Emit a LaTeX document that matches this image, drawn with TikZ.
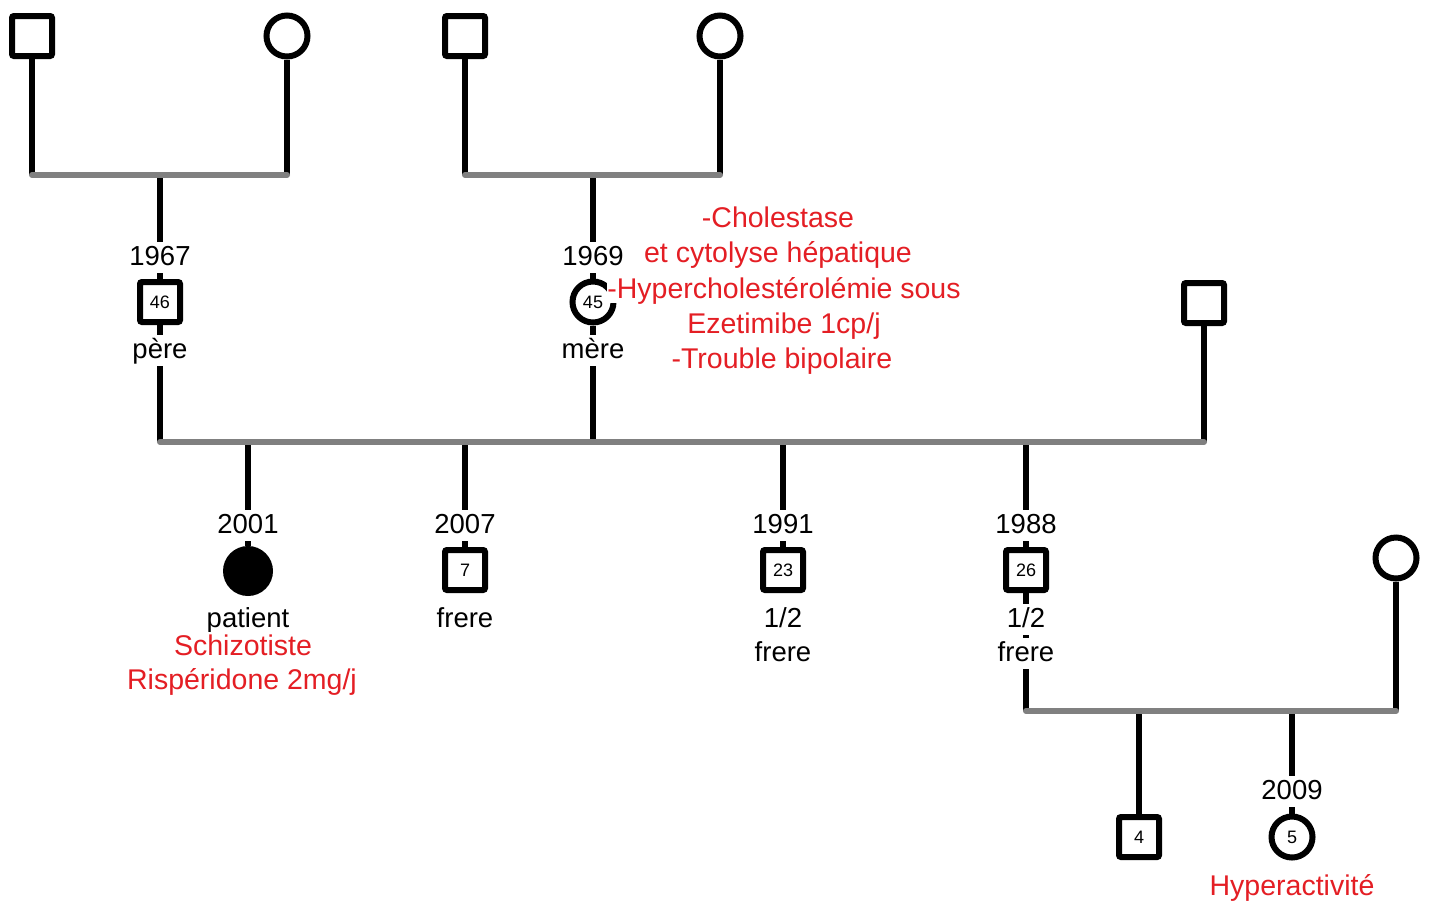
\documentclass[tikz,border=0pt]{standalone}
\usepackage{fontspec}
\setmainfont{Liberation Sans}
\definecolor{redtxt}{RGB}{228,30,36}
\definecolor{linegray}{RGB}{128,128,128}
\begin{document}
\begin{tikzpicture}[x=1pt,y=-1pt,
  male/.style={draw=black,line width=6pt,rectangle,rounded corners=2pt,minimum size=40pt,inner sep=0pt,fill=white,font=\fontsize{18}{20}\selectfont},
  female/.style={draw=black,line width=6pt,circle,minimum size=41pt,inner sep=0pt,fill=white,font=\fontsize{18}{20}\selectfont},
  affected/.style={circle,fill=black,minimum size=50pt,inner sep=0pt},
  lbl/.style={anchor=base,fill=white,inner xsep=2pt,inner ysep=2pt,text height=21pt,text depth=6pt,font=\fontsize{27.5}{30}\selectfont,text=black},
  rlbl/.style={lbl,font=\fontsize{28.5}{30}\selectfont,text=redtxt},
  vline/.style={line width=6pt,black},
  hline/.style={line width=6pt,linegray,line cap=round}]

\useasboundingbox (0,0) rectangle (1431,906);

% shapes
\node[male]   (gf1) at (32,36) {};
\node[female] (gm1) at (287,36) {};
\node[male]   (gf2) at (465,36) {};
\node[female] (gm2) at (720,36) {};
\node[male]   (father) at (160,302) {46};
\node[female] (mother) at (593,302) {45};
\node[male]   (other) at (1204,303) {};
\node[affected] (patient) at (248,571) {};
\node[male]   (b7) at (465,570) {7};
\node[male]   (b23) at (783,570) {23};
\node[male]   (b26) at (1026,570) {26};
\node[female] (wife) at (1396,558) {};
\node[male]   (g4) at (1139,837) {4};
\node[female] (g5) at (1292,837) {5};

% coordinates
\coordinate (m1l) at (32,175);
\coordinate (m1r) at (287,175);
\coordinate (m1c) at (160,175);
\coordinate (m2l) at (465,175);
\coordinate (m2r) at (720,175);
\coordinate (m2c) at (593,175);
\coordinate (s1) at (160,442);
\coordinate (s2) at (593,442);
\coordinate (s3) at (1204,442);
\coordinate (k1) at (248,442);
\coordinate (k2) at (465,442);
\coordinate (k3) at (783,442);
\coordinate (k4) at (1026,442);
\coordinate (t1) at (1026,711);
\coordinate (t2) at (1396,711);
\coordinate (u1) at (1139,711);
\coordinate (u2) at (1292,711);

% vertical lines
\draw[vline] (gf1) -- (m1l);
\draw[vline] (gm1) -- (m1r);
\draw[vline] (gf2) -- (m2l);
\draw[vline] (gm2) -- (m2r);
\draw[vline] (m1c) -- (father);
\draw[vline] (father) -- (s1);
\draw[vline] (m2c) -- (mother);
\draw[vline] (mother) -- (s2);
\draw[vline] (other) -- (s3);
\draw[vline] (k1) -- (patient);
\draw[vline] (k2) -- (b7);
\draw[vline] (k3) -- (b23);
\draw[vline] (k4) -- (b26);
\draw[vline] (b26) -- (t1);
\draw[vline] (wife) -- (t2);
\draw[vline] (u1) -- (g4);
\draw[vline] (u2) -- (g5);

% horizontal lines
\draw[hline] (m1l) -- (m1r);
\draw[hline] (m2l) -- (m2r);
\draw[hline] (s1) -- (s3);
\draw[hline] (t1) -- (t2);

% labels (positions are baselines)
\node[lbl] (y1967) at (160,265) {1967};
\node[lbl] (lpere) at (160,358) {père};
\node[lbl] (y1969) at (593,265) {1969};
\node[lbl] (lmere) at (593,358) {mère};
\node[lbl] (y2001) at (248,533) {2001};
\node[lbl] (lpat) at (248,627) {patient};
\node[lbl] (y2007) at (465,533) {2007};
\node[lbl] (lf7) at (465,627) {frere};
\node[lbl] (y1991) at (783,533) {1991};
\node[lbl] (lh23) at (783,627) {1/2};
\node[lbl] (lf23) at (783,661) {frere};
\node[lbl] (y1988) at (1026,533) {1988};
\node[lbl] (lh26) at (1026,627) {1/2};
\node[lbl] (lf26) at (1026,661) {frere};
\node[lbl] (y2009) at (1292,799) {2009};

\node[rlbl] (r1) at (778,227) {-Cholestase};
\node[rlbl] (r2) at (778,262) {et cytolyse hépatique};
\node[rlbl,inner xsep=0pt,inner ysep=0pt,text height=18pt,text depth=5pt] (r3) at (784,298) {-Hypercholestérolémie sous};
\node[rlbl] (r4) at (784,333) {Ezetimibe 1cp/j};
\node[rlbl] (r5) at (782,368) {-Trouble bipolaire};
\node[rlbl] (rp1) at (243,655) {Schizotiste};
\node[rlbl] (rp2) at (242,689) {Rispéridone 2mg/j};
\node[rlbl] (rh) at (1292,895) {Hyperactivité};
\end{tikzpicture}
\end{document}
